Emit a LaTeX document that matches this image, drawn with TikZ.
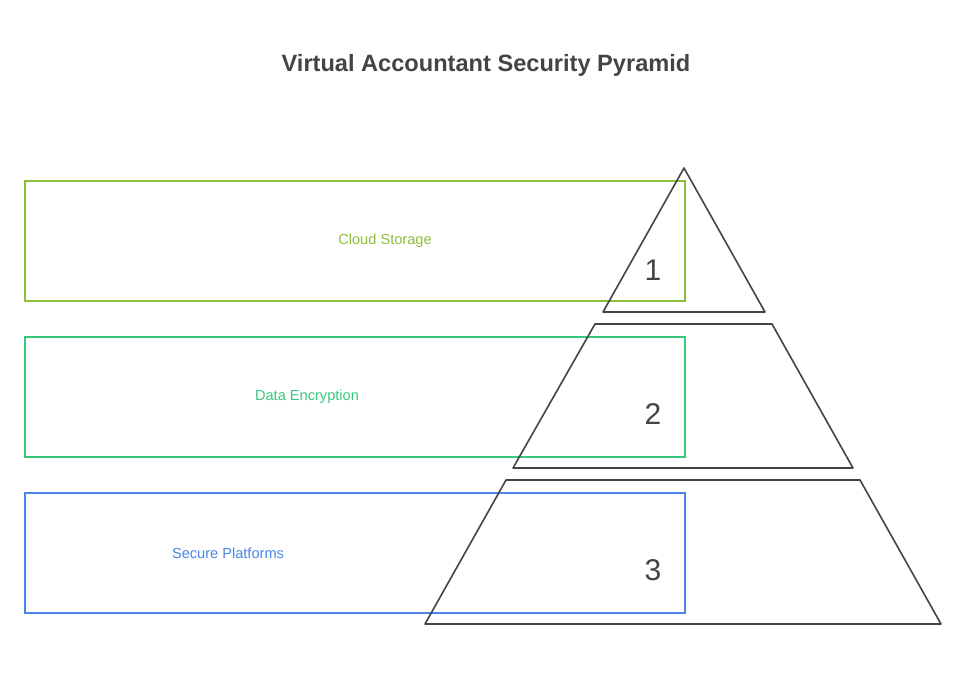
\documentclass[tikz,border=0pt]{standalone}
\usepackage{fontspec}
\setmainfont{Liberation Sans}
\usepackage{tikz}
\usetikzlibrary{positioning}
\definecolor{titlegray}{RGB}{68, 68, 68}
\definecolor{cloudgreen}{RGB}{141, 190, 58}
\definecolor{cryptgreen}{RGB}{56, 199, 125}
\definecolor{platblue}{RGB}{74, 134, 232}

\begin{document}
\begin{tikzpicture}[
    x=1pt, y=-1pt,
    layerbox/.style={draw, line width=1.8pt, inner sep=0pt, minimum width=660pt, minimum height=120pt, anchor=north west},
    layerlabel/.style={font=\fontsize{14.6}{17}\selectfont},
    tier/.style={draw=titlegray, line width=1.6pt, line join=round},
    tiernum/.style={text=titlegray, font=\fontsize{30}{34}\selectfont}
    ]
    \useasboundingbox (0,0) rectangle (966,672);

    % Title
    \node[text=titlegray, font=\bfseries\fontsize{23.6}{28}\selectfont] (title) at (486,65) {Virtual Accountant Security Pyramid};

    % Boxes
    \node[layerbox, draw=cloudgreen] (cloud) at (24,180) {};
    \node[layerbox, draw=cryptgreen] (crypt) at (24,336) {};
    \node[layerbox, draw=platblue] (plat) at (24,492) {};

    \node[layerlabel, text=cloudgreen] (cloudtxt) at (385,241) {Cloud Storage};
    \node[layerlabel, text=cryptgreen] (crypttxt) at (307,397) {Data Encryption};
    \node[layerlabel, text=platblue] (plattxt) at (228,553) {Secure Platforms};

    % Pyramid
    \draw[tier] (684,168) -- (765,312) -- (603,312) -- cycle;
    \draw[tier] (595,324) -- (772,324) -- (853,468) -- (513,468) -- cycle;
    \draw[tier] (506,480) -- (860,480) -- (941,624) -- (425,624) -- cycle;

    \node[tiernum] (n1) at (653,270) {1};
    \node[tiernum] (n2) at (653,414) {2};
    \node[tiernum] (n3) at (653,570) {3};
  \end{tikzpicture}
\end{document}
